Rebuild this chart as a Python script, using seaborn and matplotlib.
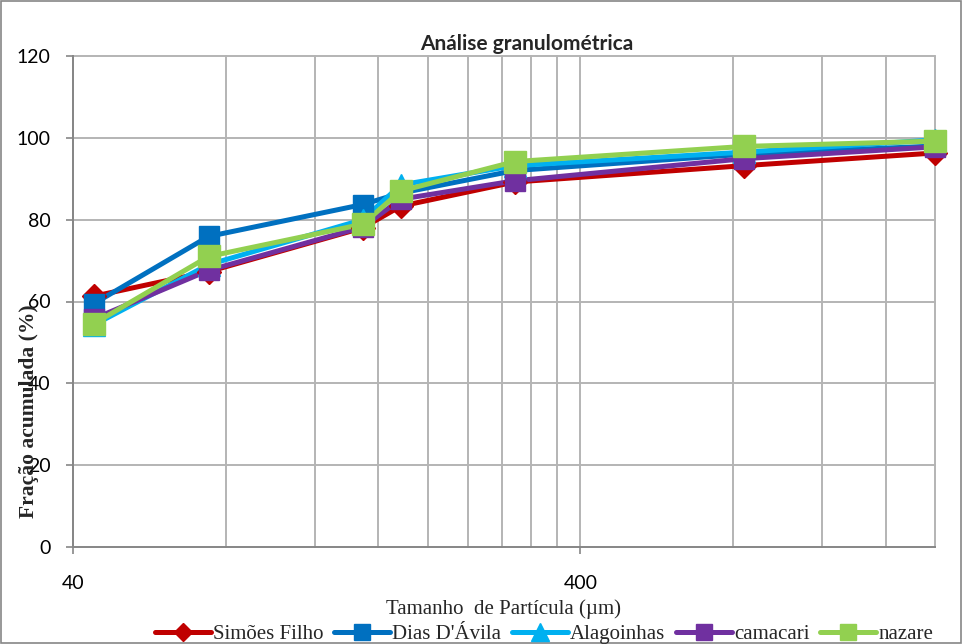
import matplotlib
matplotlib.use("Agg")
import matplotlib.pyplot as plt
import matplotlib.ticker as mticker
from matplotlib.patches import Rectangle
import seaborn as sns
import pandas as pd

# Sieve openings (µm) and cumulative fraction (%) for each sample
sizes = [44, 74, 149, 177, 297, 840, 2000]
simoes_filho = [61.3, 67.3, 78.0, 83.3, 89.2, 93.2, 96.3]
dias_davila = [59.5, 75.9, 83.7, 86.5, 92.0, 96.0, 98.0]
alagoinhas = [54.3, 69.0, 80.0, 88.5, 93.2, 96.5, 99.5]
camacari = [55.8, 67.6, 78.2, 85.0, 89.5, 94.9, 97.8]
nazare = [54.6, 71.0, 78.9, 87.0, 94.2, 97.9, 99.2]

series_names = ["Simões Filho", "Dias D'Ávila", "Alagoinhas", "camacari", "nazare"]
series_values = [simoes_filho, dias_davila, alagoinhas, camacari, nazare]
colors = ["#C00000", "#0070C0", "#00B0F0", "#7030A0", "#92D050"]
marker_shapes = ["D", "s", "^", "s", "s"]
marker_sizes = [12, 15, 16.5, 15, 15.5]

x_ticks = [40, 400]
x_minor = [80, 120, 160, 200, 240, 280, 320, 360, 800, 1200, 1600, 2000]
y_ticks = [0, 20, 40, 60, 80, 100, 120]

rows = []
for name, vals in zip(series_names, series_values):
    for s, v in zip(sizes, vals):
        rows.append({"size": s, "frac": v, "amostra": name})
df = pd.DataFrame(rows)

sns.set_theme(style="white")
plt.rcParams["font.family"] = ["Lato", "DejaVu Sans"]

fig = plt.figure(figsize=(9.63, 6.44), dpi=100)
ax = fig.add_axes([73 / 963, 97 / 644, (935 - 73) / 963, (547 - 56) / 644])

ax.set_xscale("log")
ax.set_xlim(40, 2000)
ax.set_ylim(0, 120)

grid_color = "#B4B4B4"
for xv in x_minor + x_ticks:
    ax.axvline(xv, color=grid_color, lw=1.4, zorder=0)
for yv in y_ticks[1:]:
    ax.axhline(yv, color=grid_color, lw=1.4, zorder=0)

sns.lineplot(
    data=df, x="size", y="frac", hue="amostra", hue_order=series_names,
    palette=colors, linewidth=3.6, legend=False, ax=ax, zorder=3,
)
for ln in ax.get_lines():
    ln.set_clip_on(False)
for i, (name, col, mk, ms) in enumerate(zip(series_names, colors, marker_shapes, marker_sizes)):
    sub = df[df["amostra"] == name]
    ax.plot(sub["size"], sub["frac"], linestyle="none", marker=mk, markersize=ms,
            color=col, markeredgecolor=col, markeredgewidth=1.0, zorder=4 + i,
            clip_on=False)

ax.xaxis.set_major_locator(mticker.FixedLocator(x_ticks))
ax.xaxis.set_major_formatter(mticker.FixedFormatter([str(t) for t in x_ticks]))
ax.xaxis.set_minor_locator(mticker.NullLocator())
ax.set_yticks(y_ticks)
ax.set_yticklabels([str(t) for t in y_ticks])

for side in ["top", "right"]:
    ax.spines[side].set_visible(False)
for side in ["left", "bottom"]:
    ax.spines[side].set_color("#868686")
    ax.spines[side].set_linewidth(1.4)

ax.tick_params(axis="y", which="major", direction="out", length=5, width=1.2,
               color="#868686", pad=11, labelsize=14, labelcolor="black", left=True)
ax.tick_params(axis="x", which="major", direction="out", length=5, width=1.2,
               color="#868686", pad=15, labelsize=14, labelcolor="black", bottom=True)

ax.set_xlabel("")
ax.set_ylabel("")

fig.text(527 / 963, 1 - 44 / 644, "Análise granulométrica", ha="center", va="center",
         fontsize=15, fontweight="bold", family=["Lato", "DejaVu Sans"])
fig.text(504 / 963, 1 - 609 / 644, "Tamanho  de Partícula (µm)", ha="center", va="center",
         fontsize=15, family=["Liberation Serif", "DejaVu Serif"])
fig.text(29 / 963, 1 - 411 / 644, "Fração acumulada (%)", ha="center", va="center",
         rotation=90, fontsize=15.5, fontweight="bold",
         family=["Liberation Serif", "DejaVu Serif"])

handles = []
for name, col, mk, ms in zip(series_names, colors, marker_shapes, marker_sizes):
    h, = ax.plot([], [], color=col, lw=3.6, marker=mk, markersize=ms * 0.75,
                 markeredgecolor=col, label=name)
    handles.append(h)
fig.legend(handles=handles, labels=series_names, loc="center",
           bbox_to_anchor=(544 / 963, 1 - 634 / 644), ncol=5, frameon=False,
           handlelength=2.7, handletextpad=0.1, columnspacing=0.5,
           prop={"family": ["Liberation Serif", "DejaVu Serif"], "size": 15})

fig.patches.append(Rectangle((0.001, 0.001), 0.997, 0.997, transform=fig.transFigure,
                             fill=False, edgecolor="#868686", lw=1.2))

fig.savefig("out.png", dpi=100, facecolor="white")
